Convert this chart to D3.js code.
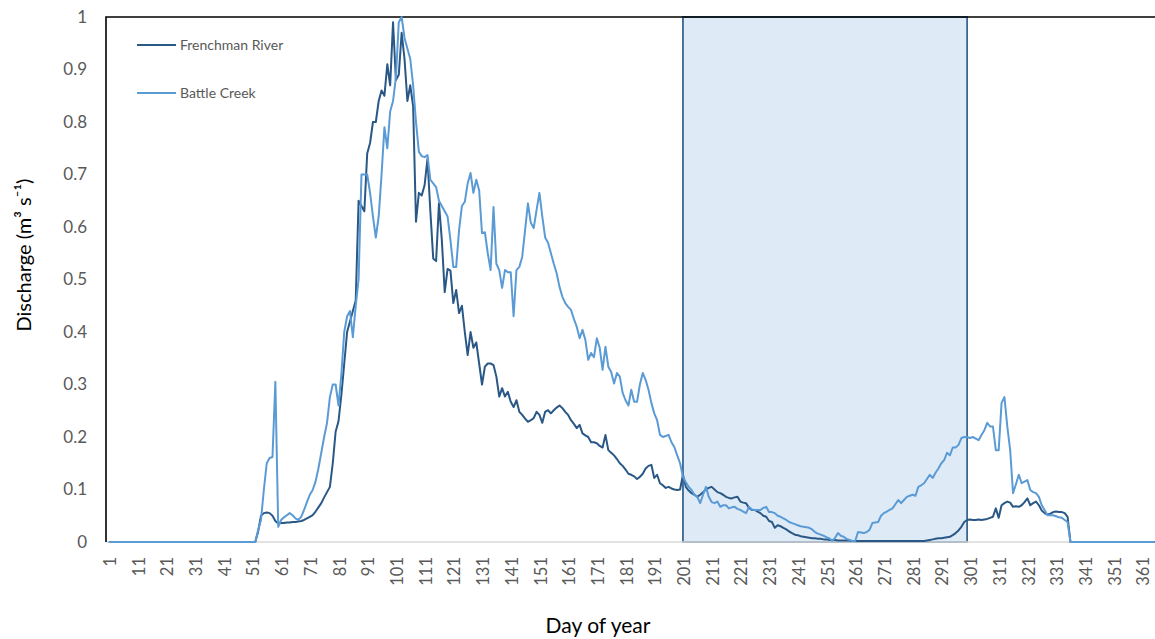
<!DOCTYPE html>
<html>
<head>
<meta charset="utf-8">
<script src="https://cdn.jsdelivr.net/npm/d3@7"></script>
<style>
  html, body { margin: 0; padding: 0; background: #fff; }
  svg { display: block; font-family: Lato, 'Open Sans', sans-serif; }
</style>
</head>
<body>
<svg id="chart" width="1155" height="639"></svg>
<script>
// daily discharge, day 1..365 (normalised)
var frenchmanRiver = [
  0, 0, 0, 0, 0, 0, 0, 0, 0, 0, 0, 0, 0, 0, 0, 0, 0, 0, 0, 0,
  0, 0, 0, 0, 0, 0, 0, 0, 0, 0, 0, 0, 0, 0, 0, 0, 0, 0, 0, 0,
  0, 0, 0, 0, 0, 0, 0, 0, 0, 0, 0, 0,
  0.02, 0.05, 0.055, 0.056, 0.055, 0.05, 0.04, 0.035,
  0.036, 0.036, 0.037, 0.037, 0.038, 0.038, 0.039, 0.04, 0.042, 0.045,
  0.048, 0.051, 0.058, 0.066, 0.074, 0.085, 0.095, 0.105, 0.15, 0.21,
  0.23, 0.28, 0.34, 0.40, 0.42, 0.44, 0.46, 0.65, 0.64, 0.63,
  0.74, 0.76, 0.80, 0.80, 0.84, 0.86, 0.85, 0.91, 0.87, 0.99,
  0.88, 0.89, 0.97, 0.92, 0.84, 0.87, 0.83, 0.61, 0.665, 0.66,
  0.68, 0.73, 0.63, 0.54, 0.535, 0.645, 0.575, 0.476, 0.52, 0.517,
  0.455, 0.48, 0.436, 0.45, 0.40, 0.356, 0.40, 0.37, 0.38, 0.34,
  0.30, 0.334, 0.34, 0.34, 0.337, 0.315, 0.277, 0.293, 0.277, 0.286,
  0.267, 0.257, 0.27, 0.248, 0.242, 0.235, 0.229, 0.232, 0.236, 0.248,
  0.242, 0.227, 0.248, 0.251, 0.245, 0.251, 0.256, 0.26, 0.255, 0.248,
  0.242, 0.232, 0.225, 0.217, 0.223, 0.207, 0.203, 0.20, 0.19, 0.19,
  0.188, 0.183, 0.18, 0.204, 0.175, 0.17, 0.165, 0.158, 0.15, 0.145,
  0.138, 0.13, 0.128, 0.125, 0.12, 0.124, 0.13, 0.14, 0.145, 0.147,
  0.122, 0.128, 0.112, 0.108, 0.103, 0.105, 0.102, 0.10, 0.099, 0.10,
  0.128, 0.105, 0.098, 0.093, 0.09, 0.086, 0.09, 0.095, 0.10, 0.103,
  0.105, 0.10, 0.095, 0.093, 0.09, 0.086, 0.084, 0.083, 0.085, 0.086,
  0.077, 0.075, 0.074, 0.065, 0.061, 0.061, 0.058, 0.055, 0.05, 0.048,
  0.04, 0.038, 0.027, 0.032, 0.03, 0.027, 0.024, 0.02, 0.017, 0.014,
  0.013, 0.011, 0.01, 0.009, 0.008, 0.007, 0.007, 0.006, 0.006, 0.005,
  0.005, 0.004, 0.004, 0.004, 0.003, 0.003, 0.003, 0.003, 0.003, 0.002,
  0.002, 0.002, 0.002, 0.002, 0.002, 0.002, 0.002, 0.002, 0.002, 0.002,
  0.002, 0.002, 0.002, 0.002, 0.002, 0.002, 0.002, 0.002, 0.002, 0.002,
  0.002, 0.002, 0.002, 0.002, 0.002, 0.003, 0.004, 0.005, 0.006, 0.007,
  0.007, 0.008, 0.009, 0.01, 0.013, 0.017, 0.022, 0.029, 0.038, 0.042,
  0.043, 0.042, 0.042, 0.043, 0.042, 0.043, 0.044, 0.046, 0.048, 0.064,
  0.046, 0.07, 0.074, 0.077, 0.075, 0.067, 0.068, 0.067, 0.07, 0.076,
  0.083, 0.07, 0.074, 0.077, 0.07, 0.06, 0.055, 0.052, 0.054, 0.057,
  0.058, 0.057, 0.057, 0.055, 0.048, 0, 0, 0, 0, 0,
  0, 0, 0, 0, 0, 0, 0, 0, 0, 0, 0, 0, 0, 0, 0, 0, 0, 0, 0, 0,
  0, 0, 0, 0, 0, 0, 0, 0, 0, 0
];

var battleCreek = [
  0, 0, 0, 0, 0, 0, 0, 0, 0, 0, 0, 0, 0, 0, 0, 0, 0, 0, 0, 0,
  0, 0, 0, 0, 0, 0, 0, 0, 0, 0, 0, 0, 0, 0, 0, 0, 0, 0, 0, 0,
  0, 0, 0, 0, 0, 0, 0, 0, 0, 0, 0, 0,
  0.023, 0.042, 0.10, 0.15, 0.16, 0.162, 0.305, 0.029,
  0.042, 0.047, 0.051, 0.055, 0.051, 0.045, 0.042, 0.048, 0.061, 0.076,
  0.09, 0.099, 0.115, 0.14, 0.17, 0.20, 0.227, 0.276, 0.30, 0.30,
  0.26, 0.32, 0.40, 0.43, 0.44, 0.39, 0.45, 0.50, 0.70, 0.70,
  0.70, 0.665, 0.62, 0.58, 0.62, 0.70, 0.79, 0.75, 0.82, 0.84,
  0.885, 0.99, 1.0, 0.96, 0.94, 0.92, 0.87, 0.80, 0.743, 0.735,
  0.733, 0.737, 0.69, 0.683, 0.676, 0.65, 0.64, 0.63, 0.62, 0.575,
  0.524, 0.524, 0.594, 0.64, 0.648, 0.683, 0.703, 0.665, 0.69, 0.67,
  0.588, 0.59, 0.55, 0.518, 0.638, 0.53, 0.518, 0.484, 0.518, 0.514,
  0.514, 0.43, 0.518, 0.524, 0.543, 0.594, 0.645, 0.608, 0.598, 0.632,
  0.665, 0.62, 0.58, 0.57, 0.55, 0.53, 0.512, 0.486, 0.467, 0.455,
  0.448, 0.442, 0.425, 0.41, 0.388, 0.404, 0.385, 0.347, 0.36, 0.352,
  0.388, 0.37, 0.328, 0.372, 0.334, 0.324, 0.302, 0.322, 0.315, 0.284,
  0.27, 0.26, 0.29, 0.267, 0.267, 0.30, 0.322, 0.309, 0.29, 0.265,
  0.245, 0.232, 0.204, 0.20, 0.202, 0.204, 0.19, 0.181, 0.165, 0.15,
  0.124, 0.114, 0.105, 0.099, 0.09, 0.086, 0.074, 0.09, 0.105, 0.086,
  0.076, 0.074, 0.077, 0.067, 0.07, 0.07, 0.064, 0.066, 0.067, 0.063,
  0.061, 0.058, 0.055, 0.067, 0.062, 0.061, 0.061, 0.061, 0.065, 0.067,
  0.057, 0.057, 0.055, 0.05, 0.048, 0.045, 0.042, 0.038, 0.036, 0.034,
  0.032, 0.03, 0.029, 0.028, 0.027, 0.024, 0.019, 0.016, 0.014, 0.012,
  0.009, 0.007, 0.002, 0.008, 0.017, 0.012, 0.01, 0.006, 0.004, 0.002,
  0.002, 0.019, 0.018, 0.017, 0.019, 0.023, 0.036, 0.037, 0.038, 0.05,
  0.055, 0.058, 0.061, 0.064, 0.072, 0.08, 0.074, 0.08, 0.086, 0.088,
  0.09, 0.088, 0.105, 0.108, 0.112, 0.12, 0.128, 0.122, 0.132, 0.14,
  0.15, 0.156, 0.17, 0.165, 0.18, 0.18, 0.185, 0.198, 0.20, 0.20,
  0.198, 0.20, 0.197, 0.194, 0.204, 0.213, 0.227, 0.22, 0.22, 0.175,
  0.175, 0.265, 0.276, 0.22, 0.175, 0.093, 0.11, 0.128, 0.112, 0.115,
  0.118, 0.099, 0.095, 0.093, 0.086, 0.07, 0.061, 0.051, 0.051, 0.051,
  0.049, 0.047, 0.046, 0.042, 0.038, 0, 0, 0, 0, 0,
  0, 0, 0, 0, 0, 0, 0, 0, 0, 0, 0, 0, 0, 0, 0, 0, 0, 0, 0, 0,
  0, 0, 0, 0, 0, 0, 0, 0, 0, 0
];

var seriesNames = ['Frenchman River', 'Battle Creek'];
var seriesColors = ['#2a5886', '#5b9bd5'];

// shaded period (first and last day)
var dryPeriod = [201, 300];

var xTickLabels = [1, 11, 21, 31, 41, 51, 61, 71, 81, 91, 101, 111, 121, 131, 141, 151, 161, 171, 181,
  191, 201, 211, 221, 231, 241, 251, 261, 271, 281, 291, 301, 311, 321, 331, 341, 351, 361];
var yTickLabels = [0, 0.1, 0.2, 0.3, 0.4, 0.5, 0.6, 0.7, 0.8, 0.9, 1];

var svg = d3.select('#chart');
var plotLeft = 106, plotTop = 17, plotBottom = 542;

var x = d3.scaleLinear().domain([0, 366.5]).range([plotLeft, 1158]);
var y = d3.scaleLinear().domain([0, 1]).range([plotBottom, plotTop]);

// shaded box behind the lines
svg.append('rect')
  .attr('x', x(dryPeriod[0]))
  .attr('y', y(1))
  .attr('width', x(dryPeriod[1]) - x(dryPeriod[0]))
  .attr('height', y(0) - y(1))
  .style('fill', '#deebf7')
  .style('stroke', '#3a6690')
  .style('stroke-width', 1.8);

// baseline
svg.append('line')
  .attr('x1', plotLeft).attr('x2', 1155)
  .attr('y1', y(0)).attr('y2', y(0))
  .style('stroke', '#d9d9d9')
  .style('stroke-width', 1.5);

var yAxis = svg.append('g')
  .attr('transform', 'translate(' + plotLeft + ',0)')
  .call(d3.axisLeft(y).tickValues(yTickLabels).tickSize(0).tickPadding(19).tickFormat(d3.format('~g')));
yAxis.select('.domain').remove();
yAxis.selectAll('text')
  .style('font-size', '17px')
  .style('font-family', 'Lato, sans-serif')
  .style('fill', '#595959');

var xAxis = svg.append('g')
  .attr('transform', 'translate(0,' + plotBottom + ')')
  .call(d3.axisBottom(x).tickValues(xTickLabels).tickSize(0));
xAxis.select('.domain').remove();
xAxis.selectAll('text')
  .attr('y', 0)
  .attr('x', -15)
  .attr('dy', '0.4em')
  .attr('transform', 'rotate(-90)')
  .style('text-anchor', 'end')
  .style('font-size', '16.5px')
  .style('font-family', 'Lato, sans-serif')
  .style('fill', '#595959');

// frame: left and top border
svg.append('path')
  .attr('d', 'M' + plotLeft + ',' + plotBottom + 'V' + plotTop + 'H1155')
  .style('fill', 'none')
  .style('stroke', '#000')
  .style('stroke-width', 1.6);

var line = d3.line()
  .x(function (d, i) { return x(i + 1); })
  .y(function (d) { return y(d); });

[frenchmanRiver, battleCreek].forEach(function (values, i) {
  svg.append('path')
    .datum(values)
    .attr('d', line)
    .style('fill', 'none')
    .style('stroke', seriesColors[i])
    .style('stroke-width', 2)
    .style('stroke-linejoin', 'round');
});

// legend
var legend = svg.append('g').attr('transform', 'translate(137,45)');
seriesNames.forEach(function (name, i) {
  var g = legend.append('g').attr('transform', 'translate(0,' + (i * 48) + ')');
  g.append('line')
    .attr('x1', 0).attr('x2', 39)
    .style('stroke', seriesColors[i])
    .style('stroke-width', 2);
  g.append('text')
    .attr('x', 43)
    .attr('dy', '0.35em')
    .style('font-size', '14px')
    .style('fill', '#595959')
    .text(name);
});

// axis titles
svg.append('text')
  .attr('x', 598)
  .attr('y', 633)
  .attr('text-anchor', 'middle')
  .style('font-size', '21px')
  .style('fill', '#000')
  .text('Day of year');

svg.append('text')
  .attr('transform', 'translate(31,255) rotate(-90)')
  .attr('text-anchor', 'middle')
  .style('font-size', '20px')
  .style('fill', '#000')
  .text('Discharge (m\u00b3 s\u207b\u00b9)');
</script>
</body>
</html>
